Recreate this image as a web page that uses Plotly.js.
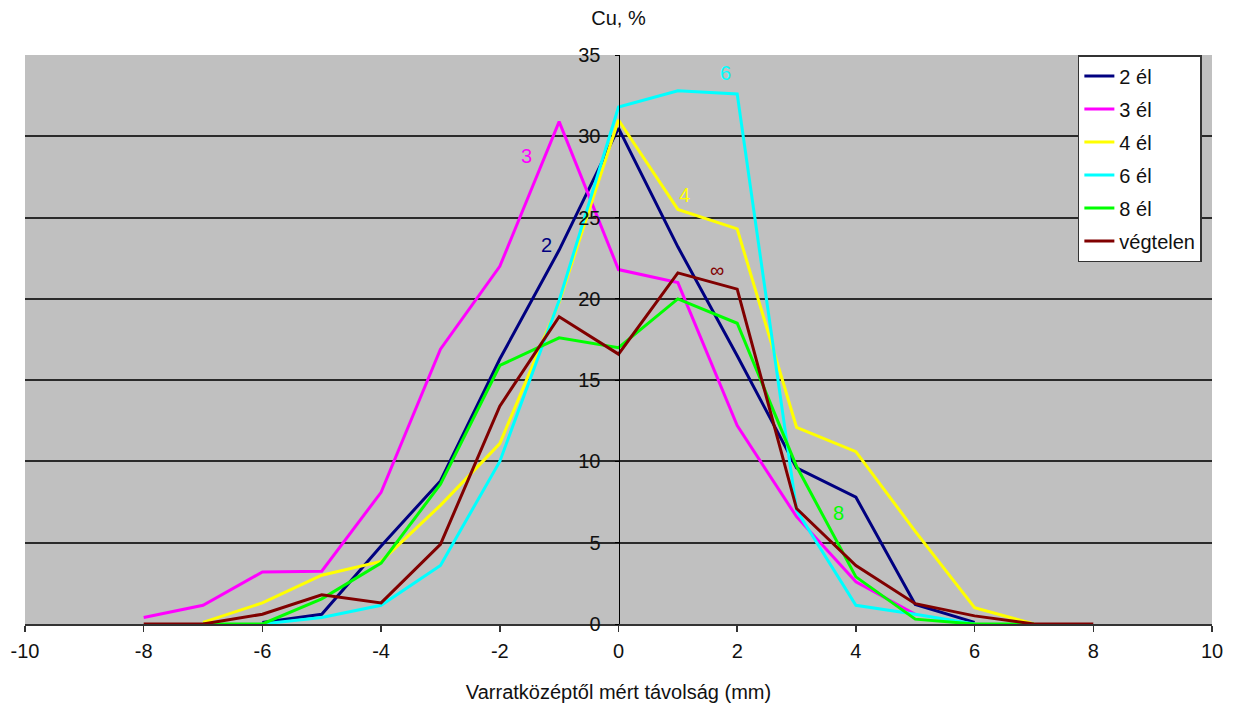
<!DOCTYPE html>
<html>
<head>
<meta charset="utf-8">
<script src="https://cdn.plot.ly/plotly-3.0.1.min.js"></script>
<style>
  html, body { margin: 0; padding: 0; background: #ffffff; }
  #chart { width: 1234px; height: 704px; }
</style>
</head>
<body>
<div id="chart"></div>
<script>
// Distance from weld centre (mm)
const distances = [-8, -7, -6, -5, -4, -3, -2, -1, 0, 1, 2, 3, 4, 5, 6, 7, 8];

// Cu content (%) per series
const el2 = [null, null, 0.1, 0.6, 4.8, 8.8, 16.3, 23.0, 30.5, 23.2, 16.5, 9.6, 7.8, 1.2, 0.1, null, null];
const el3 = [0.4, 1.15, 3.2, 3.25, 8.1, 16.9, 22.0, 30.9, 21.8, 21.0, 12.2, 6.6, 2.6, 0.6, null, null, null];
const el4 = [null, 0.1, 1.3, 3.0, 3.85, 7.3, 11.1, 19.8, 31.0, 25.5, 24.3, 12.1, 10.6, 5.7, 1.0, 0.0, null];
const el6 = [null, null, 0.0, 0.4, 1.15, 3.6, 10.0, 19.9, 31.8, 32.8, 32.6, 7.0, 1.15, 0.6, 0.0, null, null];
const el8 = [null, 0.0, 0.0, 1.55, 3.75, 8.6, 15.9, 17.6, 17.0, 20.0, 18.5, 9.7, 2.9, 0.3, 0.0, 0.0, null];
const elInf = [0.0, 0.0, 0.6, 1.8, 1.3, 4.9, 13.4, 18.9, 16.6, 21.6, 20.6, 7.1, 3.6, 1.25, 0.5, 0.0, 0.0];

const seriesNames = ['2 él', '3 él', '4 él', '6 él', '8 él', 'végtelen'];
const seriesValues = [el2, el3, el4, el6, el8, elInf];
const seriesColors = ['#000080', '#ff00ff', '#ffff00', '#00ffff', '#00ff00', '#800000'];

// In-plot series labels
const labelTexts = ['3', '2', '6', '4', '∞', '8'];
const labelX = [-1.55, -1.22, 1.81, 1.12, 1.66, 3.71];
const labelY = [28.8, 23.3, 33.9, 26.4, 21.8, 6.85];
const labelColors = ['#ff00ff', '#000080', '#00ffff', '#ffff00', '#800000', '#00ff00'];

const xTicks = [-10, -8, -6, -4, -2, 0, 2, 4, 6, 8, 10];
const yTicks = [0, 5, 10, 15, 20, 25, 30, 35];

const FONT = 'Liberation Sans, Arial, sans-serif';

const traces = seriesNames.map((name, i) => ({
  type: 'scatter',
  mode: 'lines',
  name: name,
  legendgroup: 'g' + i,
  x: distances,
  y: seriesValues[i],
  connectgaps: false,
  line: { color: seriesColors[i], width: 3 },
  hoverinfo: 'x+y+name'
}));

const annotations = labelTexts.map((t, i) => ({
  x: labelX[i], y: labelY[i], xref: 'x', yref: 'y',
  text: t, showarrow: false,
  font: { family: FONT, size: 20, color: labelColors[i] }
}));

const layout = {
  width: 1234,
  height: 704,
  paper_bgcolor: '#ffffff',
  plot_bgcolor: '#c0c0c0',
  margin: { l: 25, r: 22, t: 55, b: 80 },
  font: { family: FONT, size: 20, color: '#111111' },
  title: {
    text: 'Cu, %',
    x: 0.5, xref: 'paper', xanchor: 'center',
    y: 1 - 18 / 704, yref: 'container', yanchor: 'middle',
    font: { family: FONT, size: 20, color: '#111111' }
  },
  xaxis: {
    range: [-10, 10],
    tickvals: xTicks,
    ticktext: xTicks.map(String),
    showgrid: false,
    zeroline: false,
    showline: true,
    linecolor: '#333333',
    linewidth: 2,
    ticks: 'outside',
    ticklen: 6,
    tickwidth: 1.5,
    tickcolor: '#333333',
    ticklabelstandoff: 2,
    tickfont: { family: FONT, size: 20, color: '#111111' },
    title: {
      text: 'Varratközéptől mért távolság (mm)',
      font: { family: FONT, size: 20, color: '#111111' },
      standoff: 24
    },
    fixedrange: true
  },
  yaxis: {
    range: [0, 35],
    tickvals: yTicks,
    ticktext: yTicks.map(String),
    anchor: 'free',
    position: 0.5,
    showgrid: true,
    gridcolor: '#2a2a2a',
    gridwidth: 2,
    zeroline: false,
    showline: true,
    linecolor: '#000000',
    linewidth: 1,
    ticks: 'outside',
    ticklen: 4,
    tickcolor: '#000000',
    ticklabelstandoff: 10,
    tickfont: { family: FONT, size: 20, color: '#111111' },
    fixedrange: true
  },
  legend: {
    x: 0.887, xanchor: 'left',
    y: 1, yanchor: 'top',
    bgcolor: '#ffffff',
    bordercolor: '#333333',
    borderwidth: 1.5,
    font: { family: FONT, size: 20, color: '#111111' },
    itemwidth: 30,
    tracegroupgap: 4
  },
  annotations: annotations,
  showlegend: true
};

Plotly.newPlot('chart', traces, layout, { displayModeBar: false, staticPlot: true });
</script>
</body>
</html>
